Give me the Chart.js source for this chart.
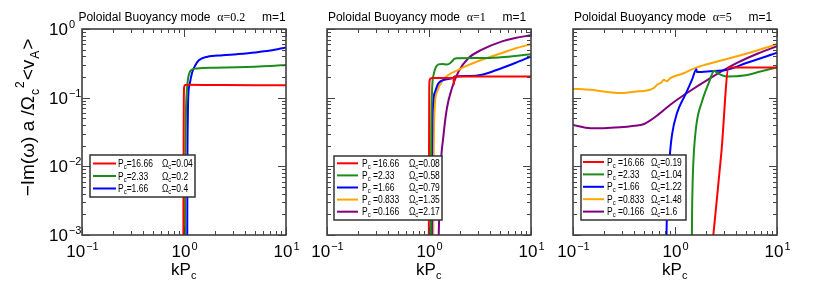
<!DOCTYPE html>
<html>
<head>
<meta charset="utf-8">
<script src="https://cdn.jsdelivr.net/npm/chart.js@4.4.0/dist/chart.umd.min.js"></script>
<style>
  html, body { margin: 0; padding: 0; background: #fff; }
  body { position: relative; width: 817px; height: 284px; overflow: hidden; }
  canvas { position: absolute; top: 0; }
</style>
</head>
<body>
<canvas id="c1" width="300" height="284" style="left:0px"></canvas>
<canvas id="c2" width="260" height="284" style="left:290px"></canvas>
<canvas id="c3" width="277" height="284" style="left:540px"></canvas>
<script>
// ---- axes ----
const xDecades = [0.1, 1, 10];
const yDecades = [0.001, 0.01, 0.1, 1];

// ---- series colours ----
const RED = '#ff0000', GREEN = '#1c8c1c', BLUE = '#0000ff', ORANGE = '#ffa500', PURPLE = '#800080';

// ---- panel 1 : alpha = 0.2 ----
const p1RedK   = [0.985, 0.99, 0.995, 1.0, 1.01, 1.03, 1.08, 2, 5, 10];
const p1RedG   = [0.0005, 0.01, 0.08, 0.13, 0.148, 0.153, 0.154, 0.153, 0.152, 0.152];
const p1GreenK = [1.02, 1.03, 1.045, 1.065, 1.09, 1.13, 1.19, 1.33, 2, 3.3, 7, 10];
const p1GreenG = [0.0005, 0.01, 0.06, 0.12, 0.18, 0.23, 0.255, 0.267, 0.272, 0.277, 0.29, 0.30];
const p1BlueK  = [1.075, 1.08, 1.09, 1.1, 1.14, 1.2, 1.28, 1.4, 1.7, 2.4, 3.3, 5, 7, 10];
const p1BlueG  = [0.0005, 0.01, 0.05, 0.1, 0.16, 0.23, 0.29, 0.35, 0.395, 0.415, 0.43, 0.455, 0.485, 0.54];
const p1Pc = ['=16.66', '=2.33', '=1.66'];
const p1Om = ['=0.04', '=0.2', '=0.4'];

// ---- panel 2 : alpha = 1 ----
const p2RedK    = [0.995, 1.0, 1.005, 1.01, 1.03, 1.08, 1.5, 1.74, 1.75, 1.77, 1.8, 3, 10];
const p2RedG    = [0.0005, 0.01, 0.1, 0.17, 0.19, 0.194, 0.194, 0.194, 0.155, 0.2, 0.204, 0.204, 0.204];
const p2GreenK  = [1.04, 1.05, 1.07, 1.11, 1.17, 1.24, 1.35, 1.5, 1.62, 1.7, 1.76, 1.88, 3, 4.8, 7, 10];
const p2GreenG  = [0.0005, 0.02, 0.12, 0.216, 0.28, 0.305, 0.31, 0.305, 0.32, 0.345, 0.366, 0.376, 0.378, 0.385, 0.405, 0.43];
const p2BlueK   = [1.065, 1.07, 1.09, 1.15, 1.24, 1.45, 1.7, 1.8, 2.5, 3.3, 4, 5.2, 7, 10];
const p2BlueG   = [0.0005, 0.01, 0.07, 0.123, 0.163, 0.183, 0.192, 0.204, 0.207, 0.216, 0.235, 0.27, 0.32, 0.40];
const p2OrangeK = [1.1, 1.11, 1.13, 1.2, 1.34, 1.56, 1.9, 2.27, 3.3, 5.2, 7, 10];
const p2OrangeG = [0.0005, 0.01, 0.06, 0.123, 0.173, 0.216, 0.25, 0.285, 0.357, 0.447, 0.52, 0.60];
const p2PurpleK = [1.23, 1.26, 1.29, 1.39, 1.5, 1.68, 1.95, 2.44, 3.3, 5.2, 7, 10];
const p2PurpleG = [0.0005, 0.002, 0.0076, 0.029, 0.0707, 0.138, 0.24, 0.378, 0.50, 0.66, 0.74, 0.81];
const p2Pc = [' =16.66', ' =2.33', ' =1.66', ' =0.833', ' =0.166'];
const p2Om = ['=0.08', '=0.58', '=0.79', '=1.35', '=2.17'];

// ---- panel 3 : alpha = 5 ----
const p3RedK    = [2.34, 2.85, 3.36, 3.5, 10];
const p3RedG    = [0.0008, 0.016, 0.276, 0.276, 0.276];
const p3GreenK  = [1.46, 1.47, 1.49, 1.52, 1.62, 1.84, 2.14, 2.43, 2.58, 3.24, 4.7, 6.86, 10];
const p3GreenG  = [0.0005, 0.002, 0.006, 0.0132, 0.04, 0.088, 0.163, 0.247, 0.23, 0.204, 0.21, 0.24, 0.276];
const p3BlueK   = [0.82, 0.83, 0.85, 0.885, 0.935, 1.047, 1.26, 1.47, 1.62, 1.64, 2.2, 3.24, 5, 10];
const p3BlueG   = [0.0005, 0.0016, 0.005, 0.0132, 0.029, 0.06, 0.11, 0.183, 0.26, 0.236, 0.242, 0.255, 0.32, 0.45];
const p3OrangeK = [0.1, 0.15, 0.2, 0.29, 0.4, 0.617, 0.666, 0.74, 0.775, 0.8, 0.83, 0.9, 1.2, 1.64, 2.5, 4.05, 6.5, 10];
const p3OrangeG = [0.135, 0.13, 0.123, 0.117, 0.122, 0.138, 0.154, 0.168, 0.183, 0.178, 0.173, 0.193, 0.225, 0.276, 0.33, 0.40, 0.49, 0.60];
const p3PurpleK = [0.1, 0.148, 0.2, 0.29, 0.4, 0.49, 0.7, 0.9, 1.31, 2.22, 4.05, 6.5, 10];
const p3PurpleG = [0.040, 0.036, 0.036, 0.037, 0.039, 0.041, 0.058, 0.079, 0.117, 0.193, 0.32, 0.44, 0.56];
const p3Pc = [' =16.66', ' =2.33', ' =1.66', ' =0.833', ' =0.166'];
const p3Om = ['=0.19', '=1.04', '=1.22', '=1.48', '=1.6'];

const titles = [
  ['Poloidal Buoyancy mode  ', '\u03b1=0.2', '     m=1'],
  ['Poloidal Buoyancy mode  ', '\u03b1=1', '     m=1'],
  ['Poloidal Buoyancy mode  ', '\u03b1=5', '     m=1']
];

const SANS = '"Liberation Sans", Arial, Helvetica, sans-serif';
const SERIF = '"Liberation Serif", "Times New Roman", serif';

function series(k, g, color) {
  return {
    data: k.map((x, i) => ({ x, y: g[i] })),
    borderColor: color, backgroundColor: color,
    borderWidth: 2, pointRadius: 0, fill: false,
    cubicInterpolationMode: 'monotone'
  };
}

function supLabel(ctx, base, exp, x, y, size, align) {
  ctx.font = size + 'px ' + SANS;
  const wb = ctx.measureText(base).width;
  const es = Math.round(size * 0.64);
  ctx.font = es + 'px ' + SANS;
  const we = ctx.measureText(exp).width;
  let x0 = x;
  if (align === 'center') x0 = x - (wb + we) / 2;
  ctx.font = size + 'px ' + SANS;
  ctx.fillText(base, x0, y);
  ctx.font = es + 'px ' + SANS;
  ctx.fillText(exp, x0 + wb + 1, y - size * 0.42);
}

// legend text: narrow face, drawn with a horizontal squeeze
function narrowText(ctx, s, x, y, size) {
  const sq = 0.85;
  ctx.font = size + 'px ' + SANS;
  ctx.save();
  ctx.translate(x, y);
  ctx.scale(sq, 1);
  ctx.fillText(s, 0, 0);
  ctx.restore();
  return ctx.measureText(s).width * sq;
}

const framePlugin = {
  id: 'frame',
  afterDraw(chart, args, opts) {
    const { ctx, chartArea: a } = chart;
    const xs = chart.scales.x, ys = chart.scales.y;
    ctx.save();
    ctx.textBaseline = 'alphabetic';
    // box
    ctx.strokeStyle = '#333';
    ctx.lineWidth = 1.5;
    ctx.strokeRect(a.left, a.top, a.right - a.left, a.bottom - a.top);
    // inward ticks on four sides
    ctx.lineWidth = 1;
    ctx.strokeStyle = '#444';
    ctx.beginPath();
    xDecades.forEach(d => {
      for (let m = 1; m <= 9; m++) {
        const v = d * m;
        if (v > 10.0001) continue;
        const px = Math.round(xs.getPixelForValue(v)) + 0.5;
        const len = m === 1 ? 8 : 4;
        ctx.moveTo(px, a.bottom); ctx.lineTo(px, a.bottom - len);
        ctx.moveTo(px, a.top); ctx.lineTo(px, a.top + len);
      }
    });
    yDecades.forEach(d => {
      for (let m = 1; m <= 9; m++) {
        const v = d * m;
        if (v > 1.0001) continue;
        const py = Math.round(ys.getPixelForValue(v)) + 0.5;
        const len = m === 1 ? 8 : 4;
        ctx.moveTo(a.left, py); ctx.lineTo(a.left + len, py);
        ctx.moveTo(a.right, py); ctx.lineTo(a.right - len, py);
      }
    });
    ctx.stroke();

    ctx.fillStyle = '#000';
    // x tick labels
    xDecades.forEach(d => {
      const e = Math.round(Math.log10(d));
      supLabel(ctx, '10', e < 0 ? '\u2212' + (-e) : String(e), xs.getPixelForValue(d), a.bottom + 22, 17, 'center');
    });
    // x title kP_c
    ctx.font = '17px ' + SANS;
    const wk = ctx.measureText('kP').width;
    const cx = xs.getPixelForValue(1);
    ctx.fillText('kP', cx - (wk + 6) / 2, a.bottom + 40);
    ctx.font = '11px ' + SANS;
    ctx.fillText('c', cx - (wk + 6) / 2 + wk, a.bottom + 44);

    // y tick labels + y title (first panel only)
    if (opts.yLabels) {
      yDecades.forEach(d => {
        const e = Math.round(Math.log10(d));
        supLabel(ctx, '10', e < 0 ? '\u2212' + (-e) : String(e), a.left - 33, ys.getPixelForValue(d) + 6, 17, 'left');
      });
      const parts = [
        ['\u2212Im(\u03c9) a /\u03a9', 19, 0], ['c', 12, 5], ['2', 12, -10],
        ['<v', 19, 0], ['A', 12, 5], ['>', 19, 0]
      ];
      const gap = 1;
      let total = 0;
      parts.forEach(p => { ctx.font = p[1] + 'px ' + SANS; total += ctx.measureText(p[0]).width + gap; });
      ctx.translate(34, 117);
      ctx.rotate(-Math.PI / 2);
      let tx = -total / 2;
      parts.forEach(p => {
        ctx.font = p[1] + 'px ' + SANS;
        ctx.fillText(p[0], tx, p[2]);
        tx += ctx.measureText(p[0]).width + gap;
      });
      ctx.setTransform(1, 0, 0, 1, 0, 0);
    }

    // panel title
    const t = opts.title;
    const fonts = ['12px ' + SANS, '12px ' + SERIF, '12px ' + SANS];
    let tw = 0;
    t.forEach((s, i) => { ctx.font = fonts[i]; tw += ctx.measureText(s).width; });
    let tx = (a.left + a.right) / 2 - 2 - tw / 2;
    t.forEach((s, i) => { ctx.font = fonts[i]; ctx.fillText(s, tx, a.top - 8); tx += ctx.measureText(s).width; });

    // legend box
    const L = opts.legend;
    ctx.fillStyle = '#fff';
    ctx.fillRect(a.left + L.x0, L.y0, L.x1 - L.x0, L.y1 - L.y0);
    ctx.strokeStyle = '#333';
    ctx.lineWidth = 1.5;
    ctx.strokeRect(a.left + L.x0, L.y0, L.x1 - L.x0, L.y1 - L.y0);
    chart.data.datasets.forEach((ds, i) => {
      const y = L.row0 + i * L.step;
      ctx.strokeStyle = ds.borderColor;
      ctx.lineWidth = 2;
      ctx.beginPath();
      ctx.moveTo(a.left + L.lx0, y); ctx.lineTo(a.left + L.lx1, y);
      ctx.stroke();
      ctx.fillStyle = '#000';
      let x = a.left + L.tx;
      x += narrowText(ctx, 'P', x, y + 3.5, 10);
      x += narrowText(ctx, 'c', x, y + 5.5, 7);
      narrowText(ctx, L.pc[i], x, y + 3.5, 10);
      x = a.left + L.ox;
      x += narrowText(ctx, '\u03a9', x, y + 3.5, 10);
      x += narrowText(ctx, 'c', x, y + 5.5, 7);
      narrowText(ctx, L.om[i], x, y + 3.5, 10);
    });
    ctx.restore();
  }
};

function makePanel(id, datasets, pad, opts) {
  return new Chart(document.getElementById(id), {
    type: 'line',
    data: { datasets },
    plugins: [framePlugin],
    options: {
      responsive: false,
      animation: false,
      devicePixelRatio: 1,
      layout: { padding: pad },
      plugins: { legend: { display: false }, tooltip: { enabled: false }, frame: opts },
      scales: {
        x: { type: 'logarithmic', min: 0.1, max: 10, display: false },
        y: { type: 'logarithmic', min: 0.001, max: 1, display: false }
      }
    }
  });
}

makePanel('c1', [
  series(p1RedK, p1RedG, RED),
  series(p1GreenK, p1GreenG, GREEN),
  series(p1BlueK, p1BlueG, BLUE)
], { left: 82, right: 14, top: 29, bottom: 49 }, {
  yLabels: true, title: titles[0],
  legend: { x0: 8, x1: 113, y0: 155, y1: 197, row0: 163.5, step: 12.5, lx0: 11, lx1: 34, tx: 36, ox: 80, pc: p1Pc, om: p1Om }
});

makePanel('c2', [
  series(p2RedK, p2RedG, RED),
  series(p2GreenK, p2GreenG, GREEN),
  series(p2BlueK, p2BlueG, BLUE),
  series(p2OrangeK, p2OrangeG, ORANGE),
  series(p2PurpleK, p2PurpleG, PURPLE)
], { left: 37, right: 19, top: 29, bottom: 49 }, {
  yLabels: false, title: titles[1],
  legend: { x0: 7, x1: 115, y0: 156, y1: 220, row0: 163.3, step: 12.1, lx0: 10, lx1: 31, tx: 35, ox: 82, pc: p2Pc, om: p2Om }
});

makePanel('c3', [
  series(p3RedK, p3RedG, RED),
  series(p3GreenK, p3GreenG, GREEN),
  series(p3BlueK, p3BlueG, BLUE),
  series(p3OrangeK, p3OrangeG, ORANGE),
  series(p3PurpleK, p3PurpleG, PURPLE)
], { left: 33, right: 40, top: 29, bottom: 49 }, {
  yLabels: false, title: titles[2],
  legend: { x0: 8, x1: 113, y0: 155, y1: 220, row0: 162, step: 12.4, lx0: 10, lx1: 31, tx: 34, ox: 78, pc: p3Pc, om: p3Om }
});
</script>
</body>
</html>
